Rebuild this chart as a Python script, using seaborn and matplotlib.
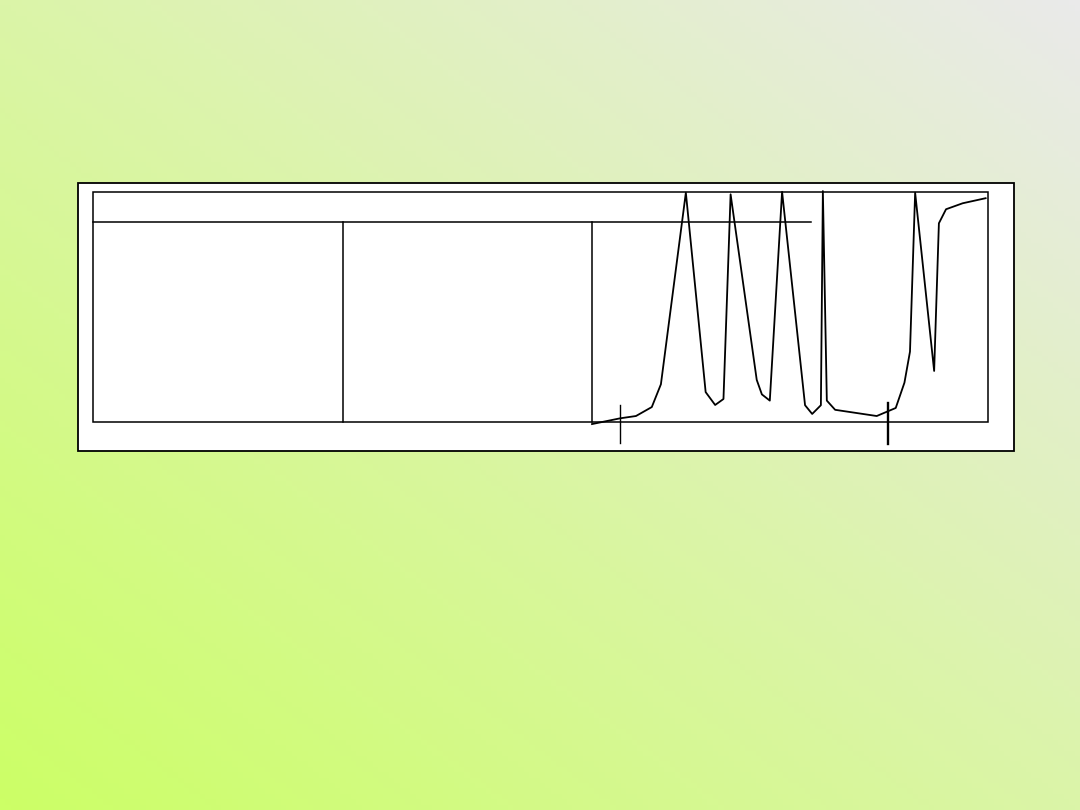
import numpy as np
import pandas as pd
import seaborn as sns
import matplotlib.pyplot as plt
from matplotlib.colors import LinearSegmentedColormap

# curve (x: 0-100 across the right panel, y: 0-100 of panel height)
curve_x = [0.0, 7.1, 11.1, 15.1, 17.4, 23.7, 28.7, 31.1, 33.2, 35.0, 41.6, 42.9, 44.9,
           48.0, 53.8, 55.6, 57.8, 58.3, 59.3, 61.4, 71.9, 76.7, 78.9, 80.3, 81.6,
           86.4, 87.6, 89.4, 93.6, 99.4]
curve_y = [-0.9, 1.6, 2.6, 6.5, 16.4, 99.7, 13.0, 7.4, 10.0, 99.0, 18.3, 12.0, 9.3,
           100.1, 7.3, 3.5, 7.3, 100.4, 9.3, 5.3, 2.6, 6.1, 17.1, 30.6, 99.7,
           22.2, 86.4, 92.5, 95.1, 97.3]
marker_x = [7.1, 74.7]

W, H = 1080, 810
fig = plt.figure(figsize=(W / 100, H / 100), dpi=100)

# slide background, diagonal gradient (green bottom-left -> grey top-right)
bg = fig.add_axes([0, 0, 1, 1])
bg.set_xlim(0, W)
bg.set_ylim(H, 0)
bg.axis('off')
gx, gy = np.meshgrid(np.linspace(0, 1, 200), np.linspace(0, 1, 150))
grad = (gx + (1 - gy)) / 2  # row 0 is the top of the slide
cmap = LinearSegmentedColormap.from_list('slide', ['#ccff66', '#eaeaea'])
bg.imshow(grad, cmap=cmap, extent=[0, W, H, 0], aspect='auto', vmin=0, vmax=1)

# white box and table frame
bg.add_patch(plt.Rectangle((78, 183), 936, 268, facecolor='white', edgecolor='black', lw=1.3))
bg.add_patch(plt.Rectangle((93, 192), 895, 230, facecolor='none', edgecolor='black', lw=1.1))
bg.plot([93, 811], [222, 222], color='black', lw=1.1)
bg.plot([343, 343], [222, 422], color='black', lw=1.1)
bg.plot([592, 592], [222, 422], color='black', lw=1.1)

# the curve
ax = fig.add_axes([592 / W, (H - 422) / H, 396 / W, 230 / H])
ax.set_xlim(0, 100)
ax.set_ylim(0, 100)
ax.axis('off')
df = pd.DataFrame({'x': curve_x, 'y': curve_y})
sns.lineplot(data=df, x='x', y='y', sort=False, estimator=None, color='black',
             lw=1.3, ax=ax, clip_on=False)
ax.plot([marker_x[0]] * 2, [7.4, -9.1], color='black', lw=1.0, clip_on=False)
ax.plot([marker_x[1]] * 2, [8.3, -9.5], color='black', lw=1.7, clip_on=False)

fig.savefig('out.png', dpi=100)
